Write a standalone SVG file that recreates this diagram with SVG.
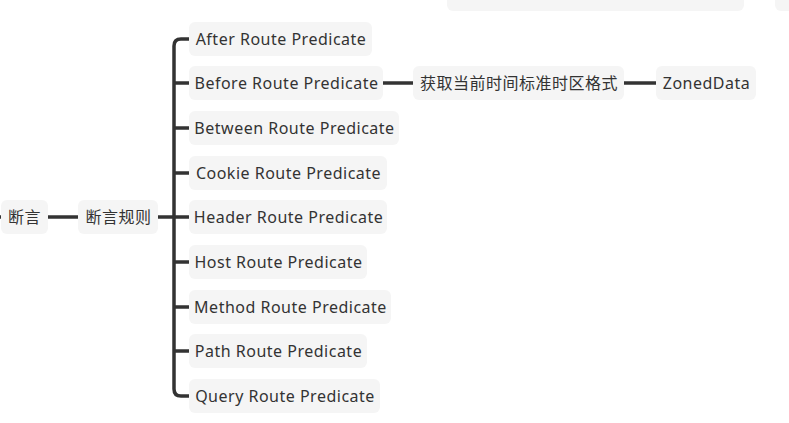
<svg xmlns="http://www.w3.org/2000/svg" width="789" height="423" viewBox="0 0 789 423">
<style>
.box{fill:#f5f5f5}
.t{font-family:"Noto Sans","Open Sans","Noto Sans CJK SC",sans-serif;font-size:16px;letter-spacing:0.5px;fill:#333;text-anchor:middle;dominant-baseline:central}
.c{fill:none;stroke:#333;stroke-width:3.5;stroke-linecap:butt}
</style>
<rect width="789" height="423" fill="#fff"/>
<g id="connectors">
<path class="c" d="M0,217 H2"/>
<path class="c" d="M47,217 H78"/>
<path class="c" d="M158,217 H175"/>
<path class="c" d="M189,39 H181 Q174,39 174,46 V389 Q174,396 181,396 H189"/>
<path class="c" d="M174,83 H189 M174,128 H189 M174,173 H189 M174,217 H189 M174,262 H189 M174,307 H189 M174,351 H189"/>
<path class="c" d="M383,83 H413"/>
<path class="c" d="M624,83 H656"/>
</g>
<g id="top1"><rect class="box" x="447" y="-20" width="297" height="31" rx="6"/></g>
<g id="top2"><rect class="box" x="775" y="-20" width="30" height="31" rx="6"/></g>
<g id="n-duanyan"><rect class="box" x="1" y="200" width="47" height="34" rx="6"/><text class="t" x="24.5" y="217">断言</text></g>
<g id="n-rules"><rect class="box" x="78" y="200" width="80" height="34" rx="6"/><text class="t" x="118.5" y="217">断言规则</text></g>
<g id="n-after"><rect class="box" x="189" y="22" width="183" height="34" rx="6"/><text class="t" x="281" y="39">After Route Predicate</text></g>
<g id="n-before"><rect class="box" x="189" y="66" width="194" height="34" rx="6"/><text class="t" x="286.5" y="83">Before Route Predicate</text></g>
<g id="n-between"><rect class="box" x="189" y="111" width="210" height="34" rx="6"/><text class="t" x="294.5" y="128">Between Route Predicate</text></g>
<g id="n-cookie"><rect class="box" x="189" y="156" width="198" height="34" rx="6"/><text class="t" x="288.5" y="173">Cookie Route Predicate</text></g>
<g id="n-header"><rect class="box" x="189" y="200" width="198" height="34" rx="6"/><text class="t" x="288.5" y="217">Header Route Predicate</text></g>
<g id="n-host"><rect class="box" x="189" y="245" width="178" height="34" rx="6"/><text class="t" x="278.5" y="262">Host Route Predicate</text></g>
<g id="n-method"><rect class="box" x="189" y="290" width="202" height="34" rx="6"/><text class="t" x="290.5" y="307">Method Route Predicate</text></g>
<g id="n-path"><rect class="box" x="189" y="334" width="178" height="34" rx="6"/><text class="t" x="278.5" y="351">Path Route Predicate</text></g>
<g id="n-query"><rect class="box" x="189" y="379" width="191" height="34" rx="6"/><text class="t" x="285" y="396">Query Route Predicate</text></g>
<g id="n-time"><rect class="box" x="413" y="66" width="211" height="34" rx="6"/><text class="t" x="519" y="83">获取当前时间标准时区格式</text></g>
<g id="n-zoned"><rect class="box" x="656" y="66" width="100" height="34" rx="6"/><text class="t" x="706.5" y="83">ZonedData</text></g>
</svg>
